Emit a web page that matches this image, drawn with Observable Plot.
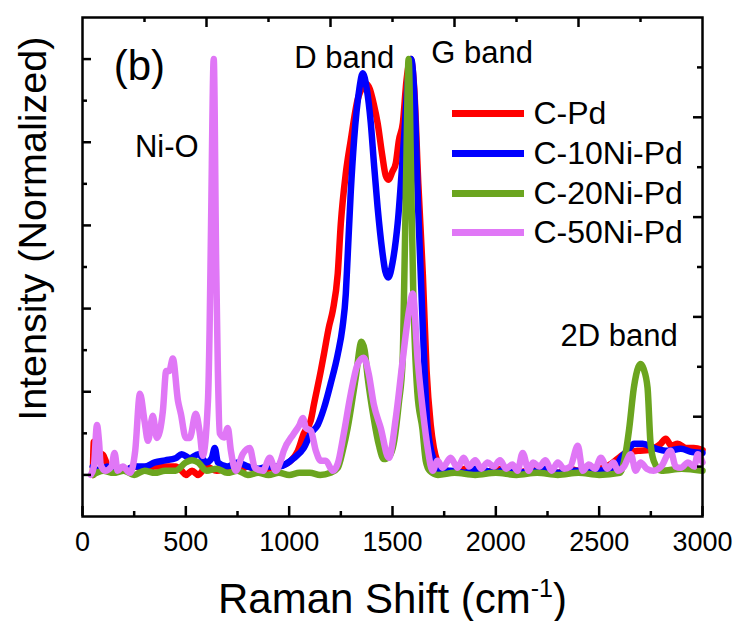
<!DOCTYPE html>
<html>
<head>
<meta charset="utf-8">
<script src="https://cdn.jsdelivr.net/npm/d3@7"></script>
<script src="https://cdn.jsdelivr.net/npm/@observablehq/plot@0.6"></script>
<style>
  html, body { margin: 0; padding: 0; background: #fff; }
  #chart { width: 737px; height: 621px; }
</style>
</head>
<body>
<div id="chart"></div>
<script>
// ---------- DATA ----------
const seriesNames = ["C-Pd", "C-10Ni-Pd", "C-20Ni-Pd", "C-50Ni-Pd"];
const seriesColors = ["#ff0000", "#0000ff", "#6ba51f", "#e077f6"];

// [Raman shift (cm-1), normalized intensity]
const cPd = [
  [50,0.0],[55,0.08],[70,0.05],[95,0.05],[115,0.03],[130,0.01],[160,0.015],[200,0.01],
  [250,0.02],[300,0.015],[350,0.02],[400,0.02],[450,0.02],[480,0.01],[500,0.0],[530,0.01],
  [560,0.0],[600,0.02],[650,0.01],[700,0.015],[750,0.01],[800,0.02],[850,0.01],[900,0.015],
  [950,0.02],[1008,0.034],[1042,0.058],[1071,0.1],[1104,0.13],[1120,0.17],[1153,0.25],
  [1168,0.29],[1192,0.355],[1211,0.395],[1235,0.484],[1250,0.605],[1274,0.725],[1298,0.805],
  [1330,0.9],[1360,0.935],[1375,0.94],[1390,0.928],[1410,0.89],[1428,0.846],[1450,0.77],
  [1467,0.72],[1480,0.71],[1500,0.73],[1516,0.75],[1531,0.805],[1550,0.846],[1568,0.95],
  [1588,1.0],[1605,0.93],[1625,0.7],[1647,0.48],[1665,0.25],[1685,0.12],[1700,0.065],
  [1718,0.03],[1740,0.01],[1760,0.01],[1800,0.005],[1850,0.015],[1900,0.01],[1950,0.005],
  [2000,0.015],[2050,0.01],[2100,0.005],[2150,0.01],[2200,0.015],[2250,0.01],[2300,0.005],
  [2350,0.015],[2400,0.01],[2450,0.02],[2500,0.015],[2556,0.026],[2620,0.05],[2686,0.058],
  [2740,0.06],[2798,0.075],[2822,0.087],[2850,0.07],[2880,0.075],[2920,0.065],[2958,0.065],
  [3000,0.06]
];
const c10NiPd = [
  [50,0.02],[80,0.01],[120,0.02],[150,0.01],[200,0.01],[250,0.02],[300,0.02],[350,0.03],
  [400,0.035],[450,0.04],[480,0.05],[520,0.04],[560,0.05],[600,0.03],[625,0.04],[640,0.065],
  [655,0.03],[700,0.02],[750,0.03],[800,0.02],[850,0.015],[900,0.02],[950,0.02],[1022,0.04],
  [1071,0.065],[1104,0.1],[1138,0.12],[1168,0.16],[1201,0.22],[1235,0.29],[1258,0.355],
  [1274,0.435],[1282,0.515],[1298,0.68],[1314,0.805],[1340,0.93],[1356,0.966],[1375,0.93],
  [1395,0.846],[1410,0.75],[1428,0.643],[1450,0.54],[1465,0.49],[1480,0.475],[1500,0.51],
  [1525,0.605],[1555,0.805],[1575,0.95],[1590,1.0],[1607,0.9],[1624,0.643],[1647,0.35],
  [1670,0.113],[1700,0.035],[1720,0.01],[1780,0.01],[1850,0.005],[1900,0.015],[1950,0.01],
  [2000,0.005],[2050,0.015],[2100,0.01],[2150,0.005],[2200,0.01],[2250,0.015],[2300,0.005],
  [2350,0.01],[2400,0.01],[2450,0.015],[2500,0.01],[2550,0.015],[2580,0.02],[2605,0.041],
  [2640,0.06],[2669,0.075],[2711,0.075],[2764,0.065],[2832,0.058],[2895,0.063],[2950,0.055],
  [3000,0.053]
];
const c20NiPd = [
  [50,0.0],[100,0.01],[150,0.005],[200,0.01],[250,0.0],[300,0.01],[350,0.005],[400,0.01],
  [450,0.01],[500,0.03],[530,0.035],[560,0.03],[600,0.01],[650,0.015],[700,0.005],[750,0.01],
  [800,0.0],[850,0.005],[900,0.0],[950,0.005],[1000,0.0],[1050,0.005],[1100,0.005],[1150,0.0],
  [1200,0.005],[1235,0.017],[1260,0.06],[1283,0.113],[1322,0.234],[1350,0.32],[1365,0.3],
  [1380,0.234],[1409,0.137],[1435,0.07],[1458,0.038],[1485,0.045],[1506,0.075],[1530,0.17],
  [1549,0.275],[1556,0.44],[1566,0.72],[1578,1.0],[1590,0.72],[1600,0.45],[1620,0.2],
  [1645,0.11],[1661,0.034],[1680,0.01],[1720,0.0],[1800,0.005],[1900,0.0],[2000,0.005],
  [2100,0.0],[2200,0.005],[2300,0.0],[2400,0.005],[2500,0.0],[2600,0.005],[2630,0.058],
  [2645,0.11],[2668,0.21],[2690,0.26],[2701,0.267],[2715,0.255],[2734,0.21],[2748,0.08],
  [2764,0.034],[2800,0.01],[2900,0.015],[3000,0.01]
];
const c50NiPd = [
  [40,0.0],[55,0.02],[70,0.12],[80,0.08],[88,0.025],[110,0.01],[140,0.02],[155,0.053],
  [170,0.01],[195,0.02],[230,0.005],[255,0.058],[278,0.195],[300,0.13],[317,0.082],[340,0.142],
  [360,0.089],[389,0.154],[405,0.25],[420,0.25],[437,0.28],[462,0.178],[476,0.147],[500,0.089],
  [519,0.089],[548,0.147],[568,0.099],[582,0.046],[607,0.178],[615,0.35],[622,0.6],[635,1.0],
  [647,0.5],[655,0.25],[664,0.1],[685,0.09],[703,0.113],[718,0.058],[742,0.01],[775,0.05],
  [809,0.065],[834,0.017],[873,0.01],[906,0.041],[935,0.01],[959,0.034],[974,0.058],
  [1022,0.099],[1050,0.12],[1066,0.137],[1081,0.113],[1105,0.106],[1129,0.058],[1153,0.034],
  [1177,0.034],[1211,0.01],[1235,0.027],[1264,0.099],[1298,0.195],[1332,0.267],[1361,0.282],
  [1385,0.243],[1409,0.171],[1443,0.113],[1482,0.041],[1516,0.137],[1549,0.275],[1580,0.395],
  [1598,0.436],[1622,0.275],[1647,0.154],[1670,0.065],[1694,0.01],[1718,0.034],[1743,0.017],
  [1781,0.041],[1815,0.017],[1844,0.041],[1870,0.02],[1900,0.035],[1930,0.015],[1960,0.03],
  [1990,0.02],[2020,0.035],[2050,0.015],[2080,0.025],[2105,0.01],[2130,0.053],[2159,0.01],
  [2180,0.03],[2210,0.02],[2240,0.035],[2270,0.01],[2300,0.03],[2330,0.015],[2360,0.02],
  [2397,0.07],[2420,0.01],[2450,0.025],[2480,0.015],[2508,0.041],[2540,0.015],[2570,0.03],
  [2590,0.01],[2620,0.02],[2653,0.05],[2677,0.01],[2700,0.03],[2730,0.015],[2764,0.01],
  [2800,0.02],[2846,0.058],[2870,0.02],[2895,0.017],[2930,0.03],[2960,0.02],[2977,0.05],
  [3000,0.03]
];
const seriesData = [cPd, c10NiPd, c20NiPd, c50NiPd];

const xTickLabels = [0, 500, 1000, 1500, 2000, 2500, 3000];
const xMinorTicks = [250, 750, 1250, 1750, 2250, 2750];
const topMajorTicks = [600, 1200, 1800, 2400];
const topMinorTicks = [300, 900, 1500, 2100, 2700];
const leftMajorTicks = [0, 0.2, 0.4, 0.6, 0.8, 1.0];
const leftMinorTicks = [0.1, 0.3, 0.5, 0.7, 0.9];
const rightMajorTicks = [0.14, 0.38, 0.62, 0.86];
const rightMinorTicks = [0.02, 0.26, 0.5, 0.74, 0.98];

const annotationTexts = ["(b)", "D band", "G band", "Ni-O", "2D band"];
const xTitle = "Raman Shift (cm-1)";
const yTitle = "Intensity (Normalized)";

// ---------- LAYOUT ----------
const W = 737, H = 621;
const mL = 82, mR = 35, mT = 17, mB = 105;
const innerW = W - mL - mR, innerH = H - mT - mB;
const font = "'Liberation Sans', Arial, Helvetica, sans-serif";

const annotationPos = [
  {x: 275, y: 0.949, size: 42},
  {x: 1266, y: 0.978, size: 31},
  {x: 1934, y: 0.990, size: 31},
  {x: 408, y: 0.764, size: 31},
  {x: 2597, y: 0.311, size: 31}
];

const marks = [];

// data lines
seriesData.forEach((data, i) => {
  marks.push(Plot.line(data, {
    x: d => d[0], y: d => d[1],
    stroke: seriesColors[i], strokeWidth: 6.5,
    curve: "monotone-x", strokeLinejoin: "round", strokeLinecap: "round"
  }));
});

// frame & ticks
marks.push(Plot.frame({stroke: "black", strokeWidth: 2.5}));
marks.push(Plot.ruleX(xTickLabels, {x: d => d, insetTop: innerH - 10, strokeWidth: 2.5}));
marks.push(Plot.ruleX(xMinorTicks, {x: d => d, insetTop: innerH - 5, strokeWidth: 2.5}));
marks.push(Plot.ruleX(topMajorTicks, {x: d => d, insetBottom: innerH - 10, strokeWidth: 2.5}));
marks.push(Plot.ruleX(topMinorTicks, {x: d => d, insetBottom: innerH - 5, strokeWidth: 2.5}));
marks.push(Plot.ruleY(leftMajorTicks, {y: d => d, insetRight: innerW - 9, strokeWidth: 2.5}));
marks.push(Plot.ruleY(leftMinorTicks, {y: d => d, insetRight: innerW - 5, strokeWidth: 2.5}));
marks.push(Plot.ruleY(rightMajorTicks, {y: d => d, insetLeft: innerW - 9, strokeWidth: 2.5}));
marks.push(Plot.ruleY(rightMinorTicks, {y: d => d, insetLeft: innerW - 5, strokeWidth: 2.5}));

// tick labels
marks.push(Plot.text(xTickLabels, {
  x: d => d, text: d => String(d), frameAnchor: "bottom", dy: 34,
  lineAnchor: "bottom", fontSize: 27, fill: "black"
}));

// axis titles
marks.push(Plot.text([xTitle], {
  text: d => d, frameAnchor: "bottom", dy: 96, lineAnchor: "bottom",
  fontSize: 42, fill: "black"
}));
marks.push(Plot.text([yTitle], {
  text: d => d, y: () => 0.592, frameAnchor: "left", dx: -37, rotate: -90,
  lineAnchor: "bottom", textAnchor: "middle", fontSize: 39.5, fill: "black"
}));

// annotations
annotationTexts.forEach((t, i) => {
  const p = annotationPos[i];
  marks.push(Plot.text([t], {
    text: d => d, x: () => p.x, y: () => p.y, lineAnchor: "bottom",
    textAnchor: "middle", fontSize: p.size, fill: "black"
  }));
});

// legend
const legendTop = [113, 153, 193, 232];
seriesNames.forEach((name, i) => {
  marks.push(Plot.ruleY([1.1], {
    y: d => d, dy: legendTop[i] - mT, insetLeft: 452 - mL, insetRight: (W - mR) - 524,
    stroke: seriesColors[i], strokeWidth: 7
  }));
  marks.push(Plot.text([name], {
    text: d => d, frameAnchor: "top-left", dx: 533 - mL, dy: legendTop[i] - mT,
    lineAnchor: "middle", textAnchor: "start", fontSize: 32, fill: "black"
  }));
});

const chart = Plot.plot({
  width: W, height: H,
  marginLeft: mL, marginRight: mR, marginTop: mT, marginBottom: mB,
  x: {domain: [0, 3000], axis: null},
  y: {domain: [-0.1, 1.1], axis: null},
  style: {fontFamily: font, background: "white", color: "black", overflow: "visible"},
  marks
});
document.getElementById("chart").appendChild(chart);

// superscript in x title
d3.select(chart).selectAll("text").each(function () {
  if (this.textContent === xTitle) {
    const el = d3.select(this);
    el.text(null);
    el.append("tspan").text("Raman Shift (cm");
    el.append("tspan").attr("dy", "-16").attr("font-size", 25).text("-1");
    el.append("tspan").attr("dy", "16").text(")");
  }
});
</script>
</body>
</html>
